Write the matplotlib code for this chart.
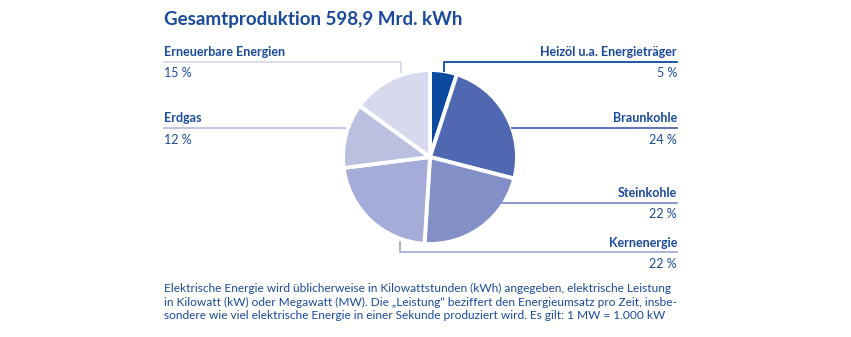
import matplotlib
matplotlib.use("Agg")
import matplotlib.pyplot as plt

plt.rcParams['font.family'] = ['Lato', 'DejaVu Sans']

# Anteile an der Stromproduktion, im Uhrzeigersinn ab 12 Uhr
labels = ["Heizöl u.a. Energieträger", "Braunkohle", "Steinkohle",
          "Kernenergie", "Erdgas", "Erneuerbare Energien"]
shares = [5, 24, 22, 22, 12, 15]
colors = ["#0b4a9f", "#5068b2", "#8290c7", "#a6acd8", "#bbbfe0", "#d7d9ec"]
title = "Gesamtproduktion 598,9 Mrd. kWh"
note = ("Elektrische Energie wird üblicherweise in Kilowattstunden (kWh) angegeben, elektrische Leistung\n"
        "in Kilowatt (kW) oder Megawatt (MW). Die \u201eLeistung\u201c beziffert den Energieumsatz pro Zeit, insbe-\n"
        "sondere wie viel elektrische Energie in einer Sekunde produziert wird. Es gilt: 1 MW = 1.000 kW")

W, H = 851, 337
txt = "#1a4a9b"

fig = plt.figure(figsize=(W / 100, H / 100), dpi=100)
ax = fig.add_axes([0, 0, 1, 1])
ax.set_xlim(0, W)
ax.set_ylim(0, H)
ax.set_aspect("equal")
ax.axis("off")

cx, cy, r = 430, H - 157, 87
ax.pie(shares, colors=colors, center=(cx, cy), radius=r, startangle=90,
       counterclock=False, wedgeprops=dict(edgecolor="white", linewidth=2.8))
ax.set_xlim(0, W)
ax.set_ylim(0, H)


def y(p):
    return H - p


# Leader lines
ax.plot([444, 444, 677], [y(71), y(62), y(62)], color=colors[0], lw=1.3)
ax.plot([512, 677], [y(128), y(128)], color=colors[1], lw=1.3)
ax.plot([502, 677], [y(203), y(203)], color=colors[2], lw=1.3)
ax.plot([400, 400, 677], [y(242), y(252), y(252)], color=colors[3], lw=1.3)
ax.plot([164, 345], [y(128), y(128)], color=colors[4], lw=1.3)
ax.plot([164, 401, 401], [y(62), y(62), y(72)], color=colors[5], lw=1.3)

# Labels
right = [(0, 52, 73), (1, 118, 140), (2, 193, 214), (3, 243, 264)]
left = [(5, 52, 73), (4, 118, 140)]
fs = 9
for i, ly, py in right:
    ax.text(677, y(ly), labels[i], ha="right", va="center", fontsize=fs,
            color=txt, fontweight="bold")
    ax.text(677, y(py), f"{shares[i]} %", ha="right", va="center", fontsize=fs,
            color=txt)
for i, ly, py in left:
    ax.text(164, y(ly), labels[i], ha="left", va="center", fontsize=fs,
            color=txt, fontweight="bold")
    ax.text(164, y(py), f"{shares[i]} %", ha="left", va="center", fontsize=fs,
            color=txt)

ax.text(164, y(20), title, ha="left", va="center", fontsize=13.5, color=txt,
        fontweight="bold")
ax.text(164, y(302), note, ha="left", va="center", fontsize=8.6, color=txt,
        linespacing=1.3)

fig.savefig("out.png", dpi=100)
